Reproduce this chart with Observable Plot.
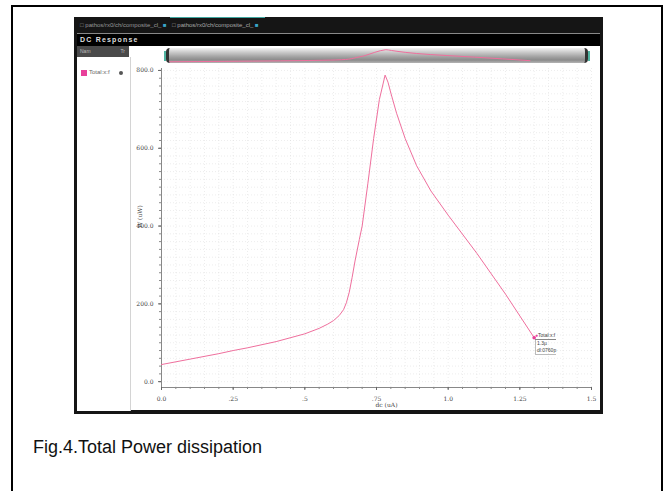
<!DOCTYPE html>
<html><head><meta charset="utf-8">
<script src="https://cdn.jsdelivr.net/npm/d3@7"></script>
<script src="https://cdn.jsdelivr.net/npm/@observablehq/plot@0.6"></script>
<style>
body{margin:0;background:#fff;width:665px;height:491px;overflow:hidden;position:relative;font-family:"Liberation Sans",Arial,sans-serif;}
.abs{position:absolute;}
#frame{left:11px;top:5px;width:648px;height:520px;border:2px solid #000;}
#shot{left:74px;top:17px;width:529px;height:397px;background:#151515;}
#tabline{left:77px;top:33px;width:523px;height:1px;background:#888;}
#dcbar{left:77px;top:34px;width:523px;height:12px;background:#000;color:#ddd;font-size:7px;letter-spacing:1.2px;line-height:12px;padding-left:3px;box-sizing:border-box;font-weight:bold;}
#strip{left:77px;top:46px;width:523px;height:20px;background:#fff;}
#namebox{left:77px;top:46px;width:52px;height:11px;background:#4a4a4a;color:#bbb;font-size:5px;line-height:11px;}
#panel{left:77px;top:57px;width:54px;height:354px;background:#fff;border-right:1px solid #d4d4d4;box-sizing:border-box;}
#cyl{left:166px;top:48px;width:422px;height:15px;border-radius:4px;background:linear-gradient(#f2f2f2,#c8c8c8 30%,#a0a0a0 60%,#8a8a8a 80%,#b5b5b5);border-left:3px solid #333;border-right:3px solid #333;box-sizing:border-box;}
.teal{width:2px;height:10px;background:#4fb3a0;top:51px;}
#mini{left:168px;top:48px;}
#main{left:131px;top:66px;}
.tab{top:18px;height:14px;color:#999;font-size:6px;line-height:14px;white-space:nowrap;}
#cap{left:33px;top:437px;font-size:18px;color:#111;}
#mk{left:535px;top:332px;font-size:5px;color:#444;line-height:7px;}
</style></head>
<body>
<div id="frame" class="abs"></div>
<div id="shot" class="abs"></div>
<div class="abs tab" style="left:80px;width:90px;">&#9633; pathos/rx0/ch/composite_cl_ <span style="color:#3aa6c8">&#9632;</span></div>
<div class="abs" style="left:170px;top:17px;width:95px;height:1px;background:#3fa6a0;"></div>
<div class="abs tab" style="left:172px;width:95px;color:#aaa;">&#9633; pathos/rx0/ch/composite_cl_ <span style="color:#3aa6c8">&#9632;</span></div>
<div id="tabline" class="abs"></div>
<div id="dcbar" class="abs">DC Response</div>
<div id="strip" class="abs"></div>
<div id="namebox" class="abs"><span style="padding-left:3px">Nam</span><span style="position:absolute;right:4px">Tr</span></div>
<div id="panel" class="abs"></div>
<div class="abs" style="left:81px;top:70px;width:6px;height:6px;background:#e8409a;"></div>
<div class="abs" style="left:89px;top:69px;font-size:6px;color:#666;">Total:x:f</div>
<div class="abs" style="left:119px;top:71px;width:4px;height:4px;border-radius:50%;background:#555;"></div>
<div id="cyl" class="abs"></div>
<div class="abs teal" style="left:164px;"></div>
<div class="abs teal" style="left:588px;"></div>
<div id="mini" class="abs"></div>
<div id="main" class="abs"></div>
<div id="mk" class="abs">
<div style="border-bottom:1px solid #888;"><span style="color:#e8409a">&#9679;</span>Total:x:f</div>
<div style="border-left:1px solid #bbb;padding-left:1px;">1.3µ</div>
<div style="border-left:1px solid #bbb;border-bottom:1px solid #bbb;padding-left:1px;">dl:0760p</div>
</div>
<div id="cap" class="abs">Fig.4.Total Power dissipation</div>
<script>
// DC sweep current (uA) and total power (uW)
const sweep = [0, 0.1, 0.2, 0.25, 0.3, 0.4, 0.5, 0.55, 0.58, 0.6, 0.62, 0.635, 0.645, 0.655, 0.665, 0.675, 0.69, 0.70, 0.72, 0.74, 0.76, 0.78, 0.79, 0.80, 0.82, 0.85, 0.89, 0.94, 1.0, 1.1, 1.2, 1.3];
const power = [44, 58, 72, 80, 87, 103, 123, 137, 148, 157, 170, 185, 203, 230, 268, 310, 365, 400, 510, 625, 725, 788, 770, 742, 690, 625, 555, 490, 428, 330, 225, 113];
const xMajor = [0, 0.25, 0.5, 0.75, 1.0, 1.25, 1.5];
const xMajorLabels = ["0.0", ".25", ".5", ".75", "1.0", "1.25", "1.5"];
const xMinor = d3.range(0, 1.5001, 0.05);
const yMajor = [0, 200, 400, 600, 800];
const yMinor = d3.range(0, 801, 20);

const data = sweep.map((x, i) => ({x, y: power[i]}));
const last = data[data.length - 1];
const lineColor = "#ef6f9d";

const main = Plot.plot({
  width: 469, height: 344,
  marginLeft: 30, marginRight: 9, marginTop: 2, marginBottom: 23,
  style: {background: "#fff", fontFamily: "DejaVu Serif", fontSize: "6px", color: "#444"},
  x: {domain: [0, 1.5], label: null},
  y: {domain: [-15, 805], label: null},
  marks: [
    Plot.gridX(xMinor, {stroke: "#ccc", strokeOpacity: 0.35, strokeDasharray: "1,2"}),
    Plot.gridY(yMinor, {stroke: "#ccc", strokeOpacity: 0.35, strokeDasharray: "1,2"}),
    Plot.frame({anchor: "bottom", stroke: "#888"}),
    Plot.frame({anchor: "left", stroke: "#888"}),
    Plot.axisX(xMinor, {tickSize: 2, text: null, stroke: "#888", label: null}),
    Plot.axisX(xMajor, {tickSize: 3, tickPadding: 6, stroke: "#666", tickFormat: (d, i) => xMajorLabels[i], fill: "#444", label: null}),
    Plot.axisY(yMinor, {tickSize: 2, text: null, stroke: "#888", label: null}),
    Plot.axisY(yMajor, {tickSize: 3, tickPadding: 5, stroke: "#666", tickFormat: d => d.toFixed(1), fill: "#444", label: null}),
    Plot.text(["W (uW)"], {frameAnchor: "left", dx: -21, rotate: -90, fill: "#444", fontSize: 6}),
    Plot.text(["dc (uA)"], {frameAnchor: "bottom", dx: 10, dy: 19, fill: "#444", fontSize: 6}),
    Plot.line(data, {x: "x", y: "y", stroke: lineColor, strokeWidth: 1}),
    Plot.dot([last], {x: "x", y: "y", r: 1.8, fill: "#e8409a"})
  ]
});
document.getElementById("main").appendChild(main);

const mini = Plot.plot({
  width: 418, height: 15, margin: 1,
  x: {domain: [0, 1.5], axis: null},
  y: {domain: [0, 800], axis: null},
  style: {background: "transparent"},
  marks: [
    Plot.line(data, {x: "x", y: "y", stroke: lineColor, strokeWidth: 1})
  ]
});
document.getElementById("mini").appendChild(mini);
</script>
</body></html>
